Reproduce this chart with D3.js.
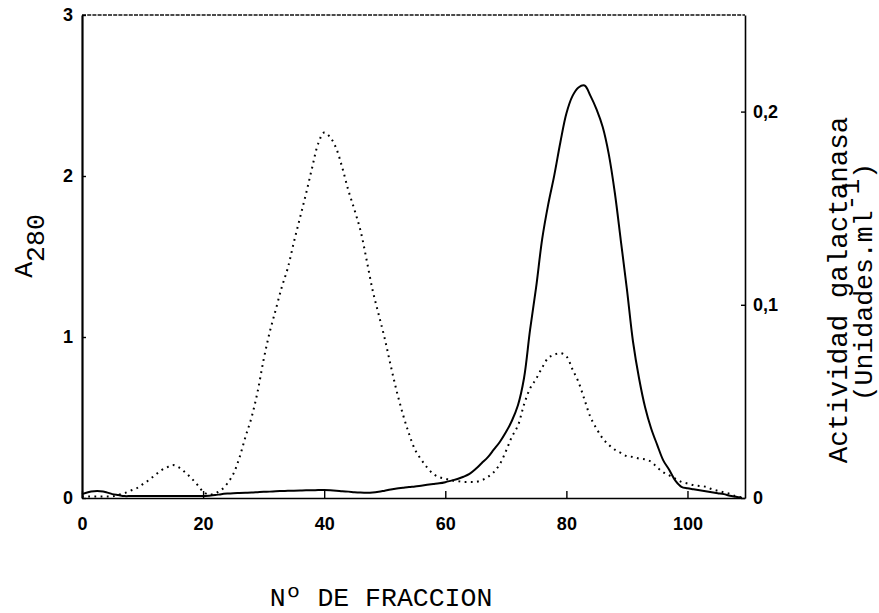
<!DOCTYPE html>
<html lang="es">
<head>
<meta charset="utf-8" />
<title>Galactanasa - fracciones</title>
<script src="https://d3js.org/d3.v7.min.js"></script>
<style>
  html, body { margin: 0; padding: 0; background: #ffffff; }
  svg { display: block; background: #ffffff; }
  .tick text { font: bold 18px "Liberation Sans", Arial, sans-serif; fill: #000; }
  .tick line { stroke: #000; stroke-width: 1.4; }
  .title { font-family: "Liberation Mono", "Courier New", monospace; font-size: 26.5px; fill: #000; }
</style>
</head>
<body>
<svg width="879" height="613"></svg>
<script>
// fracciones 0..109
var fracciones = d3.range(0, 110);

// A280 (punteado, eje izquierdo)
var a280 = [
  0.01, 0.01, 0.01, 0.01, 0.01, 0.01, 0.02, 0.03, 0.045, 0.06,
  0.085, 0.11, 0.14, 0.17, 0.19, 0.205, 0.19, 0.16, 0.125, 0.085,
  0.04, 0.02, 0.03, 0.05, 0.09, 0.15, 0.25, 0.38, 0.50, 0.66,
  0.86, 1.03, 1.17, 1.31, 1.43, 1.59, 1.74, 1.89, 2.05, 2.20,
  2.27, 2.24, 2.17, 2.05, 1.91, 1.79, 1.66, 1.48, 1.29, 1.14,
  0.99, 0.82, 0.66, 0.52, 0.40, 0.30, 0.24, 0.19, 0.15, 0.13,
  0.12, 0.11, 0.105, 0.10, 0.10, 0.10, 0.11, 0.13, 0.16, 0.21,
  0.29, 0.38, 0.45, 0.58, 0.68, 0.74, 0.81, 0.87, 0.89, 0.90,
  0.88, 0.80, 0.72, 0.61, 0.50, 0.43, 0.37, 0.33, 0.30, 0.28,
  0.26, 0.255, 0.245, 0.24, 0.225, 0.19, 0.16, 0.14, 0.12, 0.10,
  0.09, 0.08, 0.075, 0.07, 0.055, 0.045, 0.035, 0.025, 0.01, 0.005
];

// actividad galactanasa (continua, eje derecho)
var actividad = [
  0.002, 0.003, 0.0035, 0.0035, 0.003, 0.002, 0.0015, 0.001, 0.001, 0.001,
  0.001, 0.001, 0.001, 0.001, 0.001, 0.001, 0.001, 0.001, 0.001, 0.001,
  0.001, 0.0012, 0.0015, 0.002, 0.0023, 0.0025, 0.0026, 0.0027, 0.0028, 0.003,
  0.0032, 0.0033, 0.0035, 0.0036, 0.0037, 0.0038, 0.0039, 0.004, 0.004, 0.0041,
  0.0041, 0.004, 0.0038, 0.0035, 0.0033, 0.003, 0.0028, 0.0027, 0.0028, 0.0032,
  0.0038, 0.0044, 0.0049, 0.0053, 0.0057, 0.006, 0.0064, 0.0068, 0.0072, 0.0076,
  0.0082, 0.009, 0.0098, 0.011, 0.0125, 0.015, 0.018, 0.021, 0.025, 0.029,
  0.034, 0.040, 0.048, 0.062, 0.087, 0.109, 0.134, 0.152, 0.167, 0.184,
  0.199, 0.208, 0.2125, 0.2135, 0.208, 0.201, 0.192, 0.178, 0.158, 0.133,
  0.108, 0.081, 0.062, 0.047, 0.036, 0.0275, 0.0195, 0.0145, 0.009, 0.0058,
  0.005, 0.0045, 0.004, 0.0035, 0.003, 0.0025, 0.002, 0.0012, 0.0006, 0
];

var xTicks = [0, 20, 40, 60, 80, 100];
var leftTicks = [0, 1, 2, 3];
var rightTicks = [0, 0.1, 0.2];

var svg = d3.select("svg");
var pLeft = 82, pRight = 745, pTop = 15, pBottom = 498;

var x = d3.scaleLinear().domain([0, 109.5]).range([pLeft, pRight]);
var yL = d3.scaleLinear().domain([0, 3]).range([pBottom, pTop]);
var yR = d3.scaleLinear().domain([0, 0.25]).range([pBottom, pTop]);

// marco superior
svg.append("line")
   .attr("x1", pLeft).attr("x2", pRight)
   .attr("y1", pTop).attr("y2", pTop)
   .attr("stroke", "#111").attr("stroke-width", 1.3)
   .attr("stroke-dasharray", "4,1.2");

// eje x
var gx = svg.append("g")
   .attr("transform", "translate(0," + pBottom + ")")
   .call(d3.axisBottom(x).tickValues(xTicks).tickSize(-7).tickSizeOuter(0).tickPadding(19));
gx.select(".domain").attr("stroke-width", 1.6);

// eje izquierdo
var gl = svg.append("g")
   .attr("transform", "translate(" + pLeft + ",0)")
   .call(d3.axisLeft(yL).tickValues(leftTicks).tickSize(-4).tickSizeOuter(0).tickPadding(9)
     .tickFormat(d3.format("d")));
gl.select(".domain").attr("stroke-width", 2.2);

// eje derecho
var gr = svg.append("g")
   .attr("transform", "translate(" + pRight + ",0)")
   .call(d3.axisRight(yR).tickValues(rightTicks).tickSize(-4).tickSizeOuter(0).tickPadding(8)
     .tickFormat(function(d) { return d === 0 ? "0" : d.toFixed(1).replace(".", ","); }));
gr.select(".domain").attr("stroke-width", 1.6);

// curvas
var lineA = d3.line()
   .x(function(d, i) { return x(fracciones[i]); })
   .y(function(d) { return yL(d); })
   .curve(d3.curveCatmullRom.alpha(0.5));

var lineB = d3.line()
   .x(function(d, i) { return x(fracciones[i]); })
   .y(function(d) { return yR(d); })
   .curve(d3.curveCatmullRom.alpha(0.5));

svg.append("path")
   .datum(a280)
   .attr("d", lineA)
   .attr("fill", "none")
   .attr("stroke", "#000")
   .attr("stroke-width", 2)
   .attr("stroke-dasharray", "1.8,4.4");

svg.append("path")
   .datum(actividad)
   .attr("d", lineB)
   .attr("fill", "none")
   .attr("stroke", "#000")
   .attr("stroke-width", 2);

// titulos
svg.append("text")
   .attr("class", "title")
   .attr("x", 381).attr("y", 606)
   .attr("text-anchor", "middle")
   .text("Nº DE FRACCION");

var tA = svg.append("text")
   .attr("class", "title")
   .attr("transform", "translate(32,246) rotate(-90)")
   .attr("text-anchor", "middle");
tA.append("tspan").text("A");
tA.append("tspan").attr("dy", 12).text("280");

svg.append("text")
   .attr("class", "title")
   .attr("transform", "translate(847,290) rotate(-90)")
   .attr("text-anchor", "middle")
   .style("font-size", "27.5px")
   .text("Actividad galactanasa");

var tU = svg.append("text")
   .attr("class", "title")
   .attr("transform", "translate(872,282) rotate(-90)")
   .attr("text-anchor", "middle");
tU.append("tspan").text("(Unidades.ml");
tU.append("tspan").attr("dy", -13).text("-1");
tU.append("tspan").attr("dy", 13).text(")");
</script>
</body>
</html>
